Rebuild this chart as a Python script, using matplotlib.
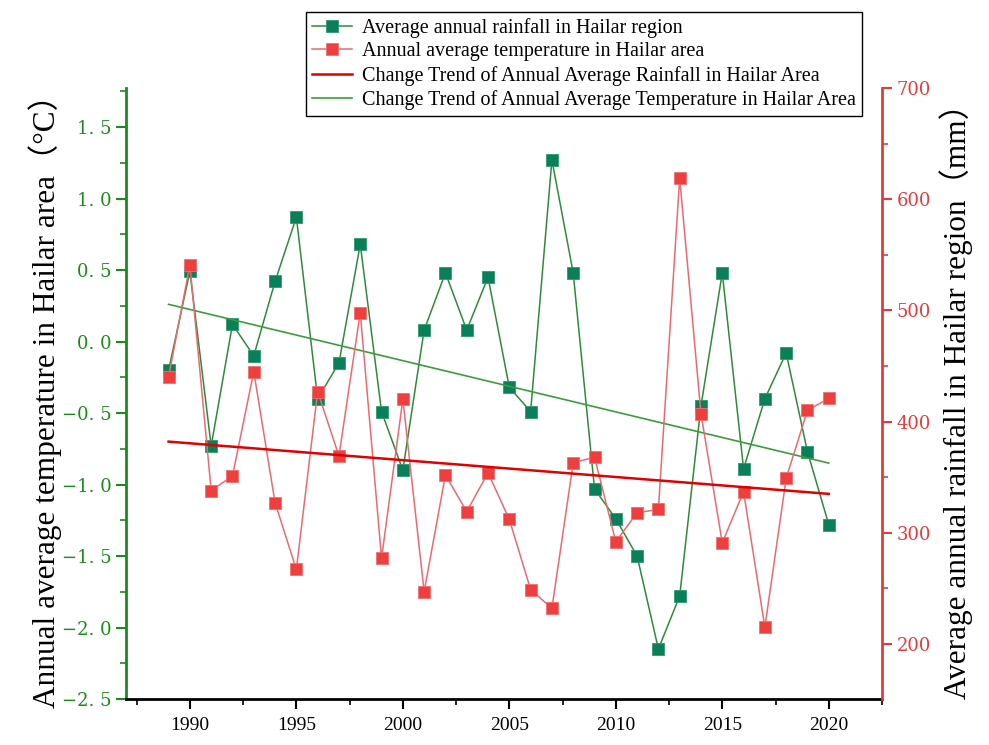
import matplotlib.pyplot as plt
from matplotlib.ticker import MultipleLocator, FuncFormatter

plt.rcParams['font.family'] = ['Liberation Serif', 'Noto Sans CJK SC']

years = list(range(1989, 2021))
# left axis series (green squares)
temp = [-0.20, 0.49, -0.73, 0.12, -0.10, 0.42, 0.87, -0.40, -0.15, 0.68,
        -0.49, -0.90, 0.08, 0.48, 0.08, 0.45, -0.32, -0.49, 1.27, 0.48,
        -1.03, -1.24, -1.50, -2.15, -1.78, -0.45, 0.48, -0.89, -0.40, -0.08,
        -0.77, -1.28]
# right axis series (red squares)
rain = [440, 541, 338, 351, 445, 327, 267, 427, 369, 498,
        277, 420, 247, 352, 319, 354, 312, 249, 232, 363,
        368, 292, 318, 321, 619, 407, 291, 337, 215, 349,
        410, 421]
trend_x = [1989, 2020]
temp_trend = [0.26, -0.85]
rain_trend = [382, 335]

labels = ['Average annual rainfall in Hailar region',
          'Annual average temperature in Hailar area',
          'Change Trend of Annual Average Rainfall in Hailar Area',
          'Change Trend of Annual Average Temperature in Hailar Area']

green = '#1a8c1a'
mgreen = '#0a7f5a'
red = '#e03c3c'

fig = plt.figure(figsize=(9.89, 7.45), dpi=100)
ax = fig.add_axes([0.1274, 0.0617, 0.7644, 0.8202])
ax2 = ax.twinx()

l1, = ax.plot(years, temp, '-', color='#2e8b3a', lw=1.1, marker='s', ms=8.5,
              mfc=mgreen, mec='#2a9a70', mew=0.6)
l4, = ax.plot(trend_x, temp_trend, '-', color='#3c9c3c', lw=1.2)
l2, = ax2.plot(years, rain, '-', color='#e86a72', lw=1.1, marker='s', ms=8.5,
               mfc='#ee3e3e', mec='#f07070', mew=0.6)
l3, = ax2.plot(trend_x, rain_trend, '-', color='#e00000', lw=1.8)

ax.set_xlim(1987, 2022.5)
ax.set_ylim(-2.5, 1.773)
ax2.set_ylim(150.5, 700)

ax.xaxis.set_major_locator(MultipleLocator(5))
ax.xaxis.set_minor_locator(MultipleLocator(2.5))
ax.yaxis.set_major_locator(MultipleLocator(0.5))
ax.yaxis.set_minor_locator(MultipleLocator(0.25))
ax2.yaxis.set_major_locator(MultipleLocator(100))
ax2.yaxis.set_minor_locator(MultipleLocator(50))
ax.yaxis.set_major_formatter(FuncFormatter(lambda v, p: ('%.1f' % v).replace('-', '\u2212').replace('.', '. ')))

for a in (ax, ax2):
    a.spines['top'].set_visible(False)
ax.spines['left'].set_color(green)
ax.spines['left'].set_linewidth(2)
ax.spines['bottom'].set_linewidth(2)
ax.spines['right'].set_visible(False)
ax2.spines['left'].set_visible(False)
ax2.spines['bottom'].set_visible(False)
ax2.spines['right'].set_color(red)
ax2.spines['right'].set_linewidth(2)

ax.tick_params(axis='x', which='major', length=7, width=1.5, labelsize=14, pad=6)
ax.tick_params(axis='x', which='minor', length=4, width=1.2)
ax.tick_params(axis='y', which='major', length=7, width=1.5, colors=green)
ax.tick_params(axis='y', which='minor', length=4, width=1.2, colors=green)
ax2.tick_params(axis='y', which='major', length=7, width=1.5, colors=red)
ax2.tick_params(axis='y', which='minor', length=4, width=1.2, colors=red)
for t in ax.get_yticklabels() + ax2.get_yticklabels():
    t.set_family(['DejaVu Serif'])
    t.set_fontsize(13)

ax.set_ylabel('Annual average temperature in Hailar area\uff08\u00b0C\uff09', fontsize=22.5, labelpad=0)
ax2.set_ylabel('Average annual rainfall in Hailar region\uff08mm\uff09', fontsize=22.5, labelpad=6)

fig.legend([l1, l2, l3, l4], labels, loc='upper right',
           bbox_to_anchor=(0.8716, 0.984), borderaxespad=0, fontsize=14.5,
           frameon=True, fancybox=False, edgecolor='black', framealpha=1,
           handlelength=2.0, handletextpad=0.5, borderpad=0.3, labelspacing=0.22)

fig.savefig('out.png', dpi=100)
